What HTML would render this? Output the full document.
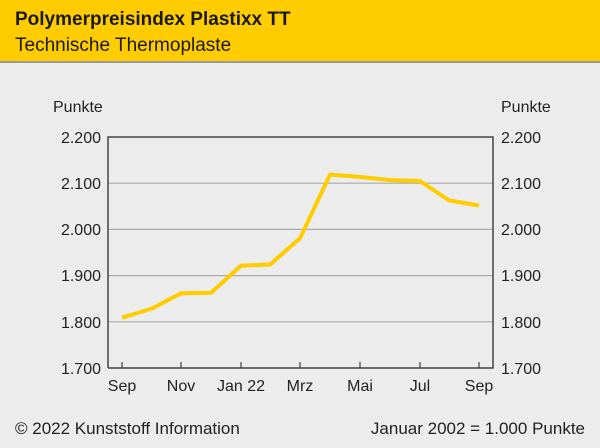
<!DOCTYPE html>
<html><head><meta charset="utf-8"><style>
body{margin:0;width:600px;height:443px;background:#ececec;font-family:"Liberation Sans",sans-serif;overflow:hidden}
</style></head><body>
<svg width="600" height="443" xmlns="http://www.w3.org/2000/svg" font-family="Liberation Sans, sans-serif">
<rect x="0" y="0" width="600" height="61" fill="#ffcc00"/>
<rect x="0" y="61" width="600" height="2" fill="#9a9a9a"/>
<text x="15" y="25" font-size="19" font-weight="bold" fill="#1a1a1a">Polymerpreisindex Plastixx TT</text>
<text x="15" y="51" font-size="19" fill="#1a1a1a">Technische Thermoplaste</text>
<g stroke="#aaa" stroke-width="1.2">
<line x1="108" y1="183.2" x2="493" y2="183.2"/>
<line x1="108" y1="229.4" x2="493" y2="229.4"/>
<line x1="108" y1="275.6" x2="493" y2="275.6"/>
<line x1="108" y1="321.8" x2="493" y2="321.8"/>
</g>
<path d="M108,368 V137 H493 V368 H108" fill="none" stroke="#444" stroke-width="1.5"/>
<g stroke="#444" stroke-width="1.2">
<line x1="122" y1="362" x2="122" y2="368"/><line x1="181" y1="362" x2="181" y2="368"/>
<line x1="241" y1="362" x2="241" y2="368"/><line x1="300" y1="362" x2="300" y2="368"/>
<line x1="360" y1="362" x2="360" y2="368"/><line x1="420" y1="362" x2="420" y2="368"/>
<line x1="479" y1="362" x2="479" y2="368"/>
</g>
<polyline fill="none" stroke="#ffcc00" stroke-width="4" stroke-linejoin="round" points="122,317.7 152,308.5 181,293.3 211,292.8 241,265.6 270,264.6 300,238.3 330,174.6 360,176.9 390,180.1 420,181.0 449,200.4 479,205.5"/>
<g font-size="16" fill="#222">
<text x="53" y="112">Punkte</text>
<text x="501" y="112">Punkte</text>
<g text-anchor="end">
<text x="101" y="143">2.200</text><text x="101" y="189">2.100</text><text x="101" y="235">2.000</text>
<text x="101" y="281">1.900</text><text x="101" y="328">1.800</text><text x="101" y="374">1.700</text>
</g>
<text x="501" y="143">2.200</text><text x="501" y="189">2.100</text><text x="501" y="235">2.000</text>
<text x="501" y="281">1.900</text><text x="501" y="328">1.800</text><text x="501" y="374">1.700</text>
<g text-anchor="middle">
<text x="122" y="391">Sep</text><text x="181" y="391">Nov</text><text x="241" y="391">Jan 22</text>
<text x="300" y="391">Mrz</text><text x="360" y="391">Mai</text><text x="420" y="391">Jul</text><text x="479" y="391">Sep</text>
</g>
<text x="15" y="434" font-size="17">© 2022 Kunststoff Information</text>
<text x="585" y="434" font-size="17" text-anchor="end">Januar 2002 = 1.000 Punkte</text>
</g>
</svg>
</body></html>
